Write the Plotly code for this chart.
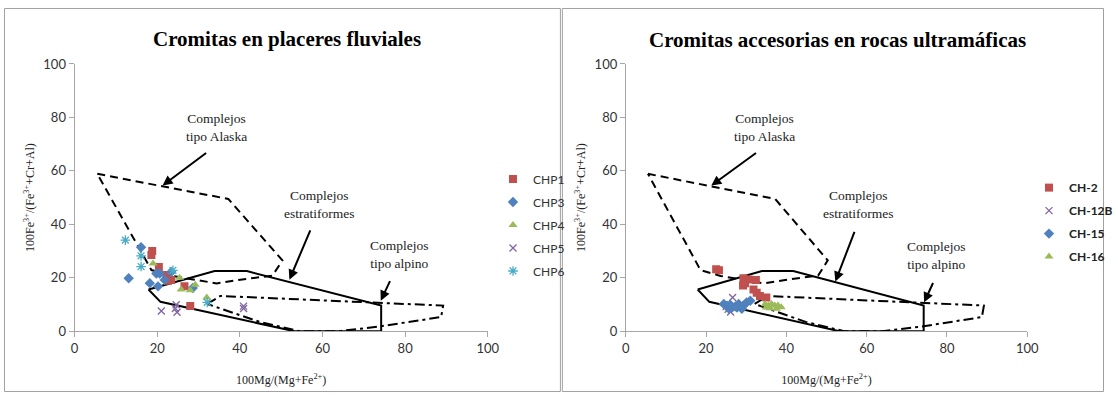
import plotly.graph_objects as go

# ---------------- data ----------------
# Placer chromites (left panel)
chp1_x = [18.8, 18.6, 20.4, 22.2, 22.6, 23.4, 26.6, 28.0]
chp1_y = [30.0, 28.5, 24.0, 21.0, 18.9, 19.2, 16.8, 9.4]
chp3_x = [16.1, 13.1, 18.2, 19.8, 20.6, 21.8, 20.2, 23.4, 28.6]
chp3_y = [31.4, 19.8, 18.0, 21.6, 21.6, 19.2, 16.8, 22.2, 16.2]
chp4_x = [19.0, 25.4, 25.8, 28.0, 29.2, 32.0]
chp4_y = [25.3, 20.0, 15.6, 15.3, 17.4, 12.6]
chp5_x = [21.0, 24.6, 24.8, 24.4, 40.9, 40.9]
chp5_y = [7.6, 9.9, 7.1, 8.5, 9.4, 8.5]
chp6_x = [12.3, 16.1, 16.1, 23.8, 32.1]
chp6_y = [34.1, 28.2, 24.2, 22.8, 10.8]

# Accessory chromites in ultramafic rocks (right panel)
ch2_x = [23.2, 22.5, 29.3, 29.7, 30.6, 29.2, 32.4, 31.8, 32.6, 33.4, 35.0]
ch2_y = [22.8, 23.2, 19.8, 18.0, 19.4, 17.1, 19.2, 15.6, 14.4, 13.2, 12.6]
ch12b_x = [26.6, 26.1, 25.5, 27.5, 25.0]
ch12b_y = [12.6, 7.2, 8.2, 8.9, 9.2]
ch15_x = [24.4, 25.2, 25.7, 26.5, 27.3, 28.1, 28.9, 29.3, 30.1, 31.0, 27.7, 26.0]
ch15_y = [10.2, 9.6, 8.4, 9.0, 9.3, 10.2, 8.4, 9.6, 10.8, 11.4, 8.9, 9.9]
ch16_x = [34.7, 35.5, 36.3, 37.1, 37.9, 38.7, 35.9, 37.5, 35.0]
ch16_y = [10.1, 9.6, 10.2, 9.6, 9.6, 9.0, 8.6, 8.4, 8.9]

# Compositional fields (closed outlines)
alaska_x = [5.5, 37.2, 50.3, 47.9, 40.1, 34.4, 23.6, 18.6, 5.5]
alaska_y = [58.9, 49.5, 26.5, 20.8, 19.3, 17.9, 20.7, 22.9, 58.9]
estrat_x = [17.9, 33.9, 41.7, 74.2, 74.2, 53.2, 20.8, 17.9]
estrat_y = [15.6, 22.5, 22.5, 9.6, 0.0, 0.0, 11.0, 15.6]
alpino_x = [32.1, 35.3, 89.2, 88.7, 73.4, 63.9, 54.4, 44.8, 32.1]
alpino_y = [10.2, 13.2, 9.6, 5.3, 1.7, 0.0, 0.0, 3.5, 10.2]

tick_vals = [0, 20, 40, 60, 80, 100]

W, H = 1118, 400
RED, BLUE, GREEN, PURPLE, CYAN = "#C0504D", "#4F81BD", "#9BBB59", "#8064A2", "#4BACC6"
AXIS_GREY = "#a6a6a6"
SERIF = "Liberation Serif"
SANS = "Lato"

fig = go.Figure()


def add_fields(xa, ya):
    fig.add_trace(go.Scatter(x=alaska_x, y=alaska_y, mode="lines", xaxis=xa, yaxis=ya,
                             line=dict(color="black", width=2, dash="8px,5px"),
                             showlegend=False, hoverinfo="skip"))
    fig.add_trace(go.Scatter(x=estrat_x, y=estrat_y, mode="lines", xaxis=xa, yaxis=ya,
                             line=dict(color="black", width=2),
                             showlegend=False, hoverinfo="skip"))
    fig.add_trace(go.Scatter(x=alpino_x, y=alpino_y, mode="lines", xaxis=xa, yaxis=ya,
                             line=dict(color="black", width=2, dash="10px,4px,3px,4px"),
                             showlegend=False, hoverinfo="skip"))


add_fields("x", "y")
add_fields("x2", "y2")

left_series = [
    ("CHP1", chp1_x, chp1_y, RED, "square", 8),
    ("CHP3", chp3_x, chp3_y, BLUE, "diamond", 8),
    ("CHP4", chp4_x, chp4_y, GREEN, "triangle-up", 8),
    ("CHP5", chp5_x, chp5_y, PURPLE, "x-thin", 7),
    ("CHP6", chp6_x, chp6_y, CYAN, "asterisk", 8),
]
for i, (name, xs, ys, col, sym, sz) in enumerate(left_series):
    fig.add_trace(go.Scatter(
        x=xs, y=ys, name=name, mode="markers", xaxis="x", yaxis="y",
        legend="legend", legendgroup=f"l{i}",
        marker=dict(color=col, symbol=sym, size=sz,
                    line=dict(color=col, width=1.3 if "thin" in sym or sym == "asterisk" else 0))))

right_series = [
    ("CH-2", ch2_x, ch2_y, RED, "square", 8),
    ("CH-12B", ch12b_x, ch12b_y, PURPLE, "x-thin", 7),
    ("CH-15", ch15_x, ch15_y, BLUE, "diamond", 8),
    ("CH-16", ch16_x, ch16_y, GREEN, "triangle-up", 8),
]
for i, (name, xs, ys, col, sym, sz) in enumerate(right_series):
    fig.add_trace(go.Scatter(
        x=xs, y=ys, name=name, mode="markers", xaxis="x2", yaxis="y2",
        legend="legend2", legendgroup=f"r{i}",
        marker=dict(color=col, symbol=sym, size=sz,
                    line=dict(color=col, width=1.3 if "thin" in sym else 0))))


def xax(domain, anchor):
    return dict(domain=domain, anchor=anchor, range=[0, 100], tickvals=tick_vals,
                showline=True, linecolor=AXIS_GREY, linewidth=1, ticks="outside",
                ticklen=5, tickcolor=AXIS_GREY, showgrid=False, zeroline=False,
                tickfont=dict(family=SANS, size=13, color="#333"),
                title=dict(text="100Mg/(Mg+Fe<sup>2+</sup>)", standoff=20,
                           font=dict(family=SERIF, size=12, color="#222")))


def yax(domain, anchor):
    return dict(domain=domain, anchor=anchor, range=[0, 100], tickvals=tick_vals,
                showline=True, linecolor=AXIS_GREY, linewidth=1, ticks="outside",
                ticklen=5, tickcolor=AXIS_GREY, showgrid=False, zeroline=False,
                tickfont=dict(family=SANS, size=13, color="#333"),
                title=dict(text="100Fe<sup>3+</sup>/(Fe<sup>3+</sup>+Cr+Al)", standoff=6,
                           font=dict(family=SERIF, size=12, color="#222")))


ydom = [63.3 / H, 341.7 / H]
fig.update_layout(
    width=W, height=H, margin=dict(l=0, r=0, t=0, b=0),
    paper_bgcolor="white", plot_bgcolor="white",
    xaxis=xax([71.7 / W, 491.7 / W], "y"),
    yaxis=yax(ydom, "x"),
    xaxis2=xax([632 / W, 1040 / W], "y2"),
    yaxis2=yax(ydom, "x2"),
    legend=dict(x=497 / W, y=1 - 163 / H, xanchor="left", yanchor="top",
                font=dict(family=SANS, size=12, color="#333"),
                tracegroupgap=4, itemwidth=30, bgcolor="rgba(0,0,0,0)"),
    legend2=dict(x=1042 / W, y=1 - 172 / H, xanchor="left", yanchor="top",
                 font=dict(family=SANS, size=12, color="#222", weight="bold"),
                 tracegroupgap=4, itemwidth=30, bgcolor="rgba(0,0,0,0)"),
    showlegend=True,
)

# Panel frames
for x0, x1 in [(0.5, 565.5), (567.5, 1117.5)]:
    fig.add_shape(type="rect", xref="paper", yref="paper",
                  x0=x0 / W, x1=x1 / W, y0=0.5 / H, y1=1 - 0.5 / H,
                  line=dict(color="#a0a0a0", width=1), layer="below")

# Panel titles
fig.add_annotation(text="<b>Cromitas en placeres fluviales</b>", xref="paper", yref="paper",
                   x=288 / W, y=1 - 32 / H, xanchor="center", yanchor="middle", showarrow=False,
                   font=dict(family=SERIF, size=21, color="black"))
fig.add_annotation(text="<b>Cromitas accesorias en rocas ultramáficas</b>", xref="paper", yref="paper",
                   x=847 / W, y=1 - 33 / H, xanchor="center", yanchor="middle", showarrow=False,
                   font=dict(family=SERIF, size=21, color="black"))

# Field labels with arrows
labels = [
    ("Complejos<br>tipo Alaska", 34.4, 76.2, 32.2, 67.1, 21.3, 54.5, 34.6, 76.2, 32.8, 67.1, 21.3, 54.5),
    ("Complejos<br>estratiformes", 59.1, 47.6, 57.2, 38.3, 52.0, 19.3, 57.8, 47.6, 57.1, 37.7, 52.2, 18.6),
    ("Complejos<br>tipo alpino", 78.6, 28.6, 76.5, 19.3, 74.1, 11.4, 77.5, 28.2, 76.7, 18.6, 74.3, 10.8),
]
for (txt, lx, ly, lax, lay, lhx, lhy, rx, ry, rax, ray, rhx, rhy) in labels:
    for xa, ya, tx, ty, ax_, ay_, hx, hy in [("x", "y", lx, ly, lax, lay, lhx, lhy),
                                             ("x2", "y2", rx, ry, rax, ray, rhx, rhy)]:
        fig.add_annotation(text=txt, xref=xa, yref=ya, x=tx, y=ty, showarrow=False,
                           font=dict(family=SERIF, size=13.5, color="#222"))
        fig.add_annotation(text="", xref=xa, yref=ya, x=hx, y=hy, axref=xa, ayref=ya,
                           ax=ax_, ay=ay_, showarrow=True, arrowhead=2, arrowsize=1,
                           arrowwidth=2, arrowcolor="black")

fig.write_html("out.html")
